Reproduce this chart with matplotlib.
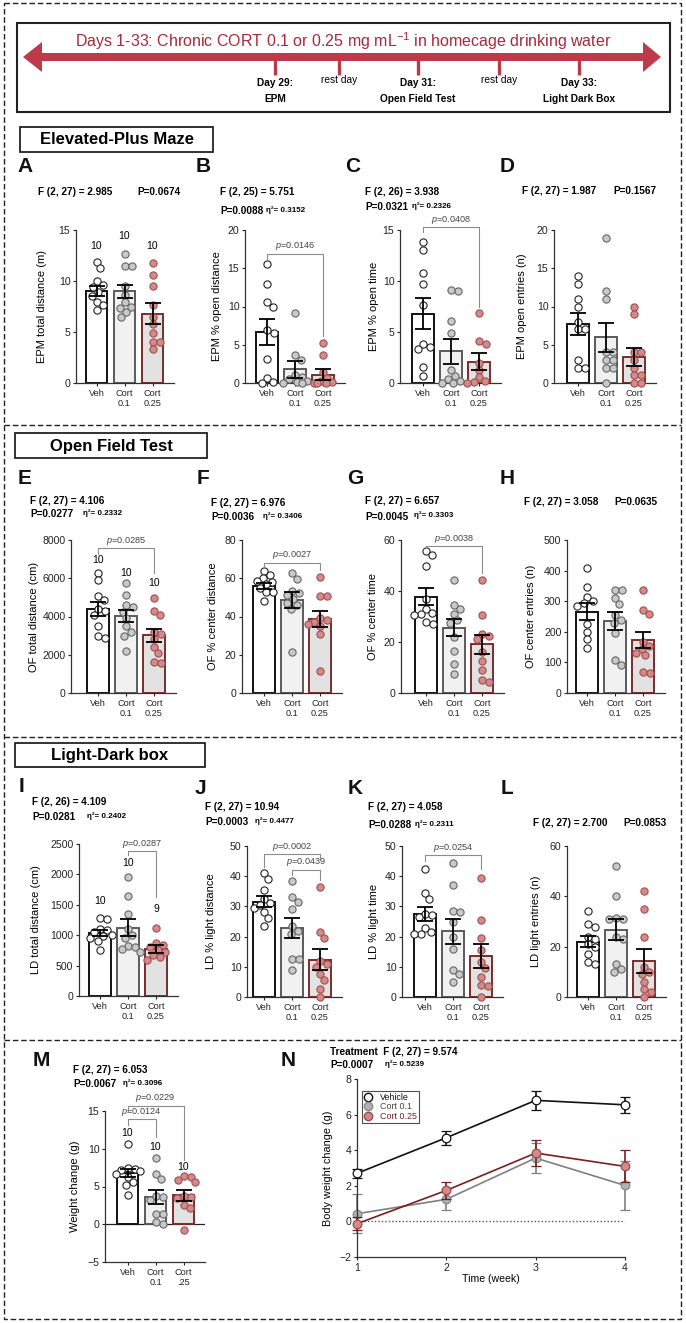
import numpy as np
import matplotlib
matplotlib.use('Agg')
import matplotlib.pyplot as plt
from matplotlib.patches import Rectangle, Polygon
from matplotlib.lines import Line2D

plt.rcParams['font.family'] = ['Liberation Sans', 'DejaVu Sans']
plt.rcParams['mathtext.fontset'] = 'custom'
plt.rcParams['mathtext.rm'] = 'Liberation Sans'
plt.rcParams['mathtext.it'] = 'Liberation Sans:italic'
plt.rcParams['mathtext.bf'] = 'Liberation Sans:bold'

W, H = 686, 1323

groups = ['Veh', 'Cort\n0.1', 'Cort\n0.25']
groups_m = ['Veh', 'Cort\n0.1', 'Cort\n.25']

# ---- EPM ----
epm_total = [[11.9, 11.3, 10.0, 9.6, 9.4, 8.9, 8.5, 7.9, 7.6, 7.2],
             [12.6, 11.5, 11.5, 9.5, 8.6, 7.9, 7.4, 7.5, 6.5, 7.0],
             [11.8, 10.6, 9.5, 7.6, 6.5, 5.8, 4.9, 4.0, 3.3, 4.0]]
epm_total_mean = [9.0, 9.0, 6.8]
epm_total_sem = [0.5, 0.65, 1.0]

epm_open_dist = [[15.5, 13.0, 10.6, 10.0, 6.9, 6.6, 3.1, 0.6, 0.1, 0.0],
                 [9.1, 3.6, 3.0, 1.0, 0.8, 0.5, 0.2, 0.1, 0.0, 0.0],
                 [5.2, 3.6, 1.5, 0.7, 0.2, 0.1, 0.0, 0.0, 0.0]]
epm_open_dist_mean = [6.7, 1.8, 1.1]
epm_open_dist_sem = [1.7, 1.1, 0.7]

epm_open_time = [[13.8, 13.0, 10.8, 9.7, 7.6, 3.8, 3.5, 3.3, 1.6, 0.7],
                 [9.0, 9.1, 6.1, 4.9, 1.3, 0.7, 0.4, 0.2, 0.0, 0.0],
                 [6.9, 4.1, 3.8, 2.0, 1.3, 0.6, 0.2, 0.1, 0.0]]
epm_open_time_mean = [6.8, 3.1, 2.1]
epm_open_time_sem = [1.55, 1.2, 0.8]

epm_entries = [[14, 13, 11, 10, 8, 7, 7, 3, 2, 2],
               [19, 12, 11, 4, 4, 3, 3, 2, 2, 0],
               [10, 9, 4, 4, 3, 2, 1, 1, 0, 0]]
epm_entries_mean = [7.7, 6.0, 3.4]
epm_entries_sem = [1.4, 1.9, 1.2]

# ---- Open field ----
of_total = [[6300, 5900, 5050, 4850, 4300, 4400, 4100, 3500, 3000, 2850],
            [5750, 5100, 4600, 4500, 4250, 3900, 3500, 3200, 3000, 2200],
            [4950, 4300, 4100, 3200, 3100, 2800, 2400, 2100, 1600, 1550]]
of_total_mean = [4410, 4020, 3010]
of_total_sem = [370, 320, 360]

of_center_dist = [[64, 61.5, 60, 58.5, 58, 57, 55, 53, 53, 48],
                  [62.5, 59.5, 53.5, 52.5, 51, 49, 47, 46, 44, 21.5],
                  [60.5, 50.5, 50.5, 39, 38, 37, 36, 35, 31, 11.5]]
of_center_dist_mean = [56.0, 48.6, 38.8]
of_center_dist_sem = [1.7, 4.0, 4.2]

of_center_time = [[55.5, 54, 50, 37, 33, 31.5, 31, 30.5, 28, 27],
                  [44.5, 34.5, 33, 31, 28.5, 27.5, 22, 16.5, 11.5, 7.5],
                  [44.5, 30.5, 23, 22.5, 21, 16, 12.5, 9, 5, 4.5]]
of_center_time_mean = [37.8, 25.6, 19.1]
of_center_time_sem = [3.4, 3.3, 3.8]

of_entries = [[408, 345, 315, 300, 295, 285, 225, 200, 175, 148],
              [338, 338, 310, 290, 255, 240, 230, 195, 108, 92],
              [338, 272, 258, 168, 152, 145, 130, 125, 68, 65]]
of_entries_mean = [266, 236, 173]
of_entries_sem = [27, 29, 27]

# ---- Light-dark ----
ld_total = [[1290, 1260, 1100, 1080, 1050, 1000, 990, 950, 900, 750],
            [1950, 1640, 1350, 1100, 1000, 950, 830, 800, 780, 730],
            [1120, 870, 840, 800, 760, 720, 680, 640, 600]]
ld_total_mean = [1035, 1125, 775]
ld_total_sem = [50, 135, 65]

ld_light_dist = [[41, 39, 35.5, 32.5, 28, 31, 30.5, 29.5, 26, 23.5],
                 [38.5, 33, 31.5, 29, 23.5, 22, 21, 12.5, 12.5, 9],
                 [36.5, 21.5, 19.5, 12, 11, 10, 7.5, 5.5, 2.5, 0]]
ld_light_dist_mean = [31.6, 22.9, 12.4]
ld_light_dist_sem = [1.7, 3.3, 3.6]

ld_light_time = [[42.5, 34.5, 32.5, 23, 27.5, 27, 26.5, 21.5, 21, 21],
                 [44.5, 37, 28.5, 28, 25, 20, 16, 9, 7.5, 5],
                 [39.5, 25.5, 19.5, 15.5, 11.5, 9.5, 6.5, 4, 3.5, 0]]
ld_light_time_mean = [27.5, 21.8, 13.6]
ld_light_time_sem = [2.3, 4.1, 3.9]

ld_entries = [[34, 29, 28, 24, 23, 21, 20, 17, 14, 13],
              [52, 40, 31.5, 31, 31, 24, 23, 13, 11, 10],
              [42, 35, 24, 12, 10, 9, 6, 3, 2, 0]]
ld_entries_mean = [22.0, 26.8, 14.3]
ld_entries_sem = [2.2, 4.3, 4.7]

# ---- Weight ----
weight = [[10.6, 7.4, 7.3, 7.2, 7.0, 6.6, 6.3, 5.6, 5.2, 3.9],
          [8.8, 6.6, 6.0, 3.8, 3.6, 3.2, 1.4, 1.3, 0.3, 0.0],
          [6.4, 6.3, 5.6, 5.8, 3.8, 3.5, 3.6, 2.5, 2.1, -0.8]]
weight_mean = [6.8, 3.6, 3.85]
weight_sem = [0.55, 0.9, 0.75]

weeks = [1, 2, 3, 4]
bw_veh = [2.7, 4.7, 6.8, 6.55]
bw_veh_sem = [0.25, 0.38, 0.52, 0.45]
bw_c01 = [0.43, 1.24, 3.56, 2.02]
bw_c01_sem = [1.1, 0.6, 0.85, 1.4]
bw_c025 = [-0.13, 1.74, 3.84, 3.09]
bw_c025_sem = [0.35, 0.47, 0.73, 0.9]

bar_fill = ['white', '#f1f1f1', '#e2e2e2']
bar_edge = ['#111111', '#5a5a5a', '#7a2c2c']
dot_face = ['white', '#c9c9c9', '#d48a8a']
dot_edge = ['#222222', '#666666', '#a05050']

fig = plt.figure(figsize=(W / 100, H / 100), dpi=100)
ov = fig.add_axes([0, 0, 1, 1])
ov.set_xlim(0, W)
ov.set_ylim(H, 0)
ov.axis('off')

SP = 28.0  # px per category


def px_axes(left, top, right, bottom):
    return fig.add_axes([left / W, 1 - bottom / H, (right - left) / W, (bottom - top) / H])


def swarm(vals, ypu, d=7.0, maxoff=12.0):
    # deterministic beeswarm in pixel units, kept inside the bar
    vals = np.asarray(vals, float)
    order = np.argsort(-vals)
    placed = []
    offs = np.zeros(len(vals))
    cands = [0.0]
    k = 1
    while k * 0.5 <= maxoff:
        cands += [k * 0.5, -k * 0.5]
        k += 1
    for idx in order:
        y = vals[idx] * ypu
        best, bestd = 0.0, -1.0
        for c in cands:
            md = min([np.hypot(c - px, y - py) for px, py in placed] + [99.0])
            if md >= d:
                best = c
                break
            if md > bestd:
                best, bestd = c, md
        placed.append((best, y))
        offs[idx] = best / SP
    return offs


def bar_panel(box, data, means, sems, ylim, yticks, ylabel, ylab_x,
              brackets=(), nlabels=None, ntexts=None, xlabels=groups, zero_line=False):
    left, c1, top, bottom = box
    right = c1 + 2.78 * SP
    ax = px_axes(left, top, right, bottom)
    ax.patch.set_alpha(0)
    ax.set_xlim(-(c1 - left) / SP, 2.78)
    ax.set_ylim(*ylim)
    ypu = (bottom - top) / (ylim[1] - ylim[0])
    for i in range(3):
        ax.bar(i, means[i], width=0.77, color=bar_fill[i], edgecolor=bar_edge[i],
               linewidth=1.4, zorder=1)
        offs = swarm(data[i], ypu)
        ax.scatter(i + offs, data[i], s=27, facecolor=dot_face[i], edgecolor=dot_edge[i],
                   linewidth=0.8, zorder=3, clip_on=False)
    ax.errorbar(range(3), means, yerr=sems, fmt='none', ecolor='black', elinewidth=1.3,
                capsize=5.5, capthick=1.3, zorder=4)
    if zero_line:
        ax.axhline(0, color='#222222', lw=0.9, zorder=0)
    for (i, j, t, le, re, txt) in brackets:
        ax.plot([i, i, j, j], [le, t, t, re], color='#8c8c8c', lw=0.8, clip_on=False, zorder=5)
        ax.annotate(txt, xy=((i + j) / 2, t), xytext=(0, 5.3), textcoords='offset points',
                    ha='center', va='center', fontsize=6.6, color='#444444',
                    annotation_clip=False)
    if nlabels is not None:
        for i, v in enumerate(nlabels):
            ax.text(i, v, ntexts[i], ha='center', va='center', fontsize=7.5, clip_on=False)
    for s in ['top', 'right']:
        ax.spines[s].set_visible(False)
    for s in ['left', 'bottom']:
        ax.spines[s].set_color('#333333')
        ax.spines[s].set_linewidth(0.9)
    ax.set_yticks(yticks)
    ax.set_xticks(range(3))
    ax.set_xticklabels(xlabels, fontsize=6.6, linespacing=1.15)
    ax.tick_params(axis='y', labelsize=7.6, length=2.5, width=0.8, pad=1.5, colors='#222222')
    ax.tick_params(axis='x', length=2.5, width=0.8, pad=2, colors='#222222')
    ax.set_ylabel(ylabel, fontsize=8)
    ax.yaxis.label.set_va('center')
    ax.yaxis.set_label_coords((ylab_x - left) / (right - left), 0.5)
    return ax


P = r'$\mathit{p}$'
n10 = ['10', '10', '10']

# Row 1: EPM
bar_panel((76, 96.5, 230, 383), epm_total, epm_total_mean, epm_total_sem, (0, 15), [0, 5, 10, 15],
          'EPM total distance (m)', 42, nlabels=[13.4, 14.4, 13.4], ntexts=n10)
bar_panel((245, 267, 230, 383), epm_open_dist, epm_open_dist_mean, epm_open_dist_sem, (0, 20),
          [0, 5, 10, 15, 20], 'EPM % open distance', 217,
          brackets=[(0, 2, 16.9, 16.2, 6.1, P + '=0.0146')])
bar_panel((400, 423, 230, 383), epm_open_time, epm_open_time_mean, epm_open_time_sem, (0, 15),
          [0, 5, 10, 15], 'EPM % open time', 374,
          brackets=[(0, 2, 15.3, 14.8, 7.5, P + '=0.0408')])
bar_panel((554, 578, 230, 383), epm_entries, epm_entries_mean, epm_entries_sem, (0, 20),
          [0, 5, 10, 15, 20], 'EPM open entries (n)', 522)

# Row 2: OF
bar_panel((71, 98, 540, 693), of_total, of_total_mean, of_total_sem, (0, 8000),
          [0, 2000, 4000, 6000, 8000], 'OF total distance (cm)', 34,
          brackets=[(0, 2, 7570, 7260, 6300, P + '=0.0285')], nlabels=[6960, 6300, 5730], ntexts=n10)
bar_panel((242, 264, 540, 693), of_center_dist, of_center_dist_mean, of_center_dist_sem, (0, 80),
          [0, 20, 40, 60, 80], 'OF % center distance', 213,
          brackets=[(0, 2, 68.1, 65.2, 64.3, P + '=0.0027')])
bar_panel((401, 426, 540, 693), of_center_time, of_center_time_mean, of_center_time_sem, (0, 60),
          [0, 20, 40, 60], 'OF % center time', 373,
          brackets=[(0, 2, 57.6, 56.7, 46.9, P + '=0.0038')])
bar_panel((567, 587, 540, 693), of_entries, of_entries_mean, of_entries_sem, (0, 500),
          [0, 100, 200, 300, 400, 500], 'OF center entries (n)', 531)

# Row 3: LD
bar_panel((79, 100, 844, 996), ld_total, ld_total_mean, ld_total_sem, (0, 2500),
          [0, 500, 1000, 1500, 2000, 2500], 'LD total distance (cm)', 36,
          brackets=[(1, 2, 2385, 2314, 1628, P + '=0.0287')], nlabels=[1563, 2193, 1436],
          ntexts=['10', '10', '9'])
bar_panel((247, 264, 846, 997), ld_light_dist, ld_light_dist_mean, ld_light_dist_sem, (0, 50),
          [0, 10, 20, 30, 40, 50], 'LD % light distance', 211,
          brackets=[(0, 2, 47.2, 43.2, 45.4, P + '=0.0002'), (1, 2, 42.1, 40.4, 38.7, P + '=0.0439')])
bar_panel((402, 425, 846, 997), ld_light_time, ld_light_time_mean, ld_light_time_sem, (0, 50),
          [0, 10, 20, 30, 40, 50], 'LD % light time', 374,
          brackets=[(0, 2, 47, 45, 42.3, P + '=0.0254')])
bar_panel((567, 588, 846, 997), ld_entries, ld_entries_mean, ld_entries_sem, (0, 60),
          [0, 20, 40, 60], 'LD light entries (n)', 536)

# Row 4: M
bar_panel((105, 127.5, 1111, 1262), weight, weight_mean, weight_sem, (-5, 15),
          [-5, 0, 5, 10, 15], 'Weight change (g)', 75,
          brackets=[(0, 1, 13.9, 13.1, 11.5, P + '=0.0124'), (0, 2, 15.7, 15.0, 8.5, P + '=0.0229')],
          nlabels=[12.1, 10.2, 7.6], ntexts=n10, xlabels=groups_m, zero_line=True)

# N: time course
axn = px_axes(357, 1079, 625, 1257)
axn.patch.set_alpha(0)
axn.axhline(0, color='#555555', lw=1.0, ls=(0, (1, 1.5)), zorder=0)
series = [(bw_c01, bw_c01_sem, '#808080', '#b0b0b0', '#8a8a8a', 2),
          (bw_c025, bw_c025_sem, '#7a1f1f', '#d48a8a', '#9a4a4a', 3),
          (bw_veh, bw_veh_sem, '#111111', 'white', '#111111', 4)]
for m, e, lc, fc, ec, z in series:
    axn.errorbar(weeks, m, yerr=e, fmt='-o', color=lc, mfc=fc, mec=ec, ms=6.2, mew=0.9,
                 lw=1.2, elinewidth=1.2, capsize=3.8, capthick=1.2, zorder=z, clip_on=False)
axn.set_xlim(1, 4)
axn.set_ylim(-2, 8)
axn.set_xticks(weeks)
axn.set_yticks([-2, 0, 2, 4, 6, 8])
for s in ['top', 'right']:
    axn.spines[s].set_visible(False)
for s in ['left', 'bottom']:
    axn.spines[s].set_color('#333333')
    axn.spines[s].set_linewidth(0.9)
axn.tick_params(labelsize=7.6, length=2.5, width=0.8, pad=1.5, colors='#222222')
axn.set_xlabel('Time (week)', fontsize=7.6, labelpad=1)
axn.set_ylabel('Body weight change (g)', fontsize=7.8)
axn.yaxis.label.set_va('center')
axn.yaxis.set_label_coords((328 - 357) / (625 - 357), 0.5)
handles = [Line2D([], [], ls='none', marker='o', ms=6, mfc='white', mec='#111111'),
           Line2D([], [], ls='none', marker='o', ms=6, mfc='#b0b0b0', mec='#8a8a8a'),
           Line2D([], [], ls='none', marker='o', ms=6, mfc='#d48a8a', mec='#9a4a4a')]
leg = axn.legend(handles, ['Vehicle', 'Cort 0.1', 'Cort 0.25'], loc='upper left',
                 bbox_to_anchor=(0.018, 0.935), fontsize=6.4, frameon=True, fancybox=False,
                 edgecolor='#222222', borderpad=0.25, labelspacing=0.05, handlelength=0.8,
                 handletextpad=1.0, borderaxespad=0)
leg.get_frame().set_linewidth(0.8)
for t, c in zip(leg.get_texts(), ['#111111', '#444444', '#7a1f1f']):
    t.set_color(c)

# ---- overlay: borders, timeline, titles, letters, stats ----
ov.add_patch(Rectangle((4, 3), 677, 1316, fill=False, ec='#222222', lw=1.0, ls=(0, (4, 2))))
for y in [425, 737, 1040]:
    ov.plot([4, 681], [y, y], color='#222222', lw=1.0, ls=(0, (4, 2)))

ov.add_patch(Rectangle((17, 23), 653, 89, fill=False, ec='#222222', lw=1.5))
red = '#be3a48'
ov.add_patch(Polygon([(23, 57), (42, 42), (42, 53), (643, 53), (643, 42), (661, 57),
                      (643, 72), (643, 61), (42, 61), (42, 72)], closed=True, fc=red, ec='none'))
ov.text(343, 41, 'Days 1-33: Chronic CORT 0.1 or 0.25 mg mL$^{-1}$ in homecage drinking water',
        ha='center', va='center', fontsize=11.5, color='#a8283a')
timeline = [(275, 'Day 29:', 'EPM'), (339, 'rest day', None), (418, 'Day 31:', 'Open Field Test'),
            (499, 'rest day', None), (579, 'Day 33:', 'Light Dark Box')]
for x, a, b in timeline:
    ov.plot([x, x], [60, 75], color=red, lw=2.4, solid_capstyle='butt')
    if b is None:
        ov.text(x, 80, a, ha='center', va='center', fontsize=7.3)
    else:
        ov.text(x, 83, a, ha='center', va='center', fontsize=7.3, fontweight='bold')
        ov.text(x, 99, b, ha='center', va='center', fontsize=7.3, fontweight='bold')

for (x0, y0, x1, y1, t) in [(20, 127, 213, 152, 'Elevated-Plus Maze'),
                            (15, 433, 207, 458, 'Open Field Test'),
                            (15, 743, 205, 767, 'Light-Dark box')]:
    ov.add_patch(Rectangle((x0, y0), x1 - x0, y1 - y0, fill=False, ec='#222222', lw=1.3))
    ov.text((x0 + x1) / 2, (y0 + y1) / 2 + 0.5, t, ha='center', va='center', fontsize=12,
            fontweight='bold')

letters = [('A', 25, 167), ('B', 203, 167), ('C', 353, 167), ('D', 507, 167),
           ('E', 25, 478), ('F', 203, 478), ('G', 355, 478), ('H', 507, 478),
           ('I', 22, 787), ('J', 200, 788), ('K', 355, 788), ('L', 507, 788),
           ('M', 41, 1060), ('N', 288, 1060)]
for t, x, y in letters:
    ov.text(x, y, t, ha='center', va='center', fontsize=15, fontweight='bold', color='#111111')

fstats = [(38, 192, 'F (2, 27) = 2.985'), (220, 192, 'F (2, 25) = 5.751'),
          (365, 192, 'F (2, 26) = 3.938'), (522, 191, 'F (2, 27) = 1.987'),
          (30, 501, 'F (2, 27) = 4.106'), (211, 503, 'F (2, 27) = 6.976'),
          (365, 501, 'F (2, 27) = 6.657'), (524, 502, 'F (2, 27) = 3.058'),
          (32, 802, 'F (2, 26) = 4.109'), (205, 807, 'F (2, 27) = 10.94'),
          (368, 807, 'F (2, 27) = 4.058'), (533, 823, 'F (2, 27) = 2.700'),
          (73, 1070, 'F (2, 27) = 6.053'), (330, 1052, 'Treatment  F (2, 27) = 9.574')]
for x, y, t in fstats:
    ov.text(x, y, t, ha='left', va='center', fontsize=7.2, fontweight='bold')

pstats = [(137, 192, 'P=0.0674'), (220, 211, 'P=0.0088'), (365, 207, 'P=0.0321'),
          (613, 191, 'P=0.1567'), (30, 514, 'P=0.0277'), (211, 517, 'P=0.0036'),
          (365, 517, 'P=0.0045'), (614, 502, 'P=0.0635'), (32, 817, 'P=0.0281'),
          (205, 822, 'P=0.0003'), (368, 825, 'P=0.0288'), (623, 823, 'P=0.0853'),
          (73, 1084, 'P=0.0067'), (330, 1065, 'P=0.0007')]
for x, y, t in pstats:
    ov.text(x, y, t, ha='left', va='center', fontsize=7.2, fontweight='bold')

etas = [(266, 210, '0.3152'), (412, 206, '0.2326'), (83, 513, '0.2332'), (263, 516, '0.3406'),
        (414, 515, '0.3303'), (87, 816, '0.2402'), (255, 821, '0.4477'), (415, 824, '0.2311'),
        (123, 1083, '0.3096'), (385, 1064, '0.5239')]
for x, y, t in etas:
    ov.text(x, y, '\u03b7\u00b2= ' + t, ha='left', va='center', fontsize=5.8, fontweight='bold')

fig.savefig('out.png', dpi=100)
